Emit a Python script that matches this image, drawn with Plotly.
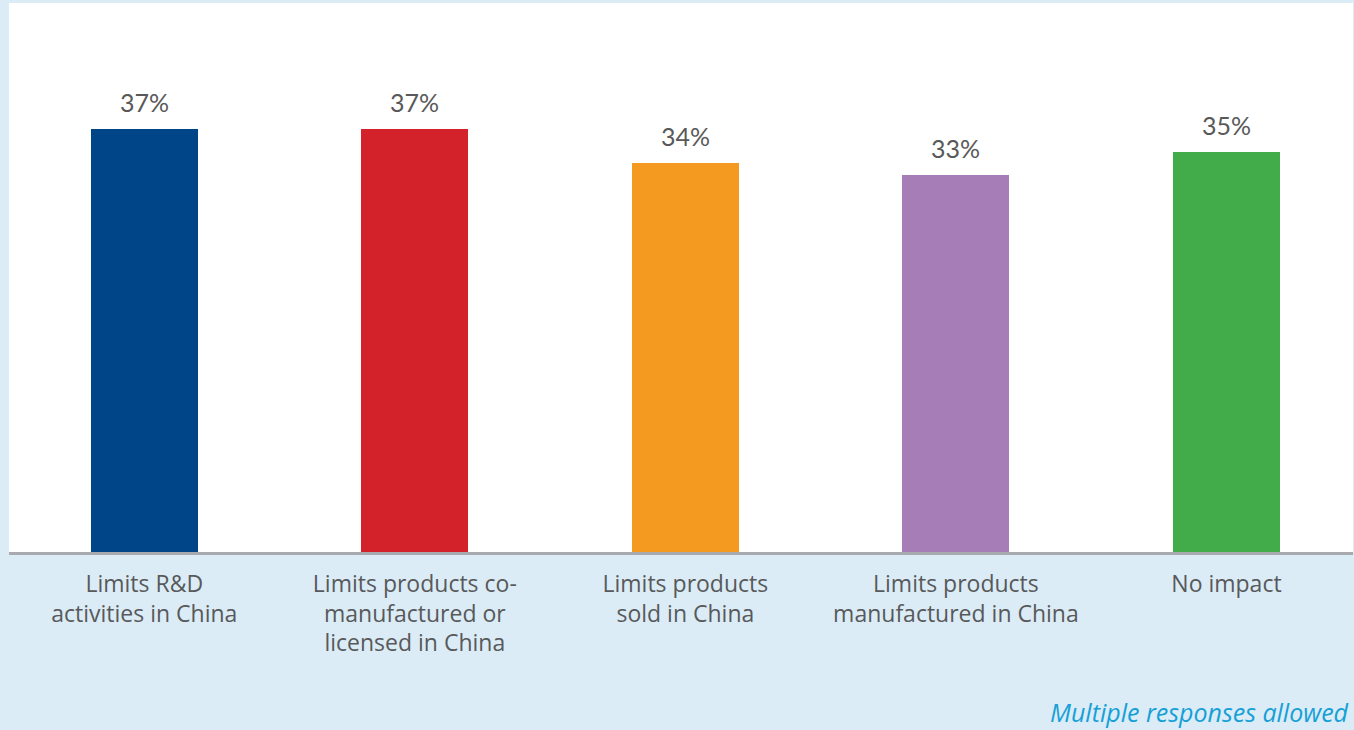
import plotly.graph_objects as go

# Survey responses: impact of restrictions on operations in China
categories = [
    "Limits R&D<br>activities in China",
    "Limits products co-<br>manufactured or<br>licensed in China",
    "Limits products<br>sold in China",
    "Limits products<br>manufactured in China",
    "No impact",
]
values = [37, 37, 34, 33, 35]
value_labels = ["37%", "37%", "34%", "33%", "35%"]
colors = ["#004587", "#d3222a", "#f49a20", "#a77db8", "#42ac4a"]
footnote = "Multiple responses allowed"

fig = go.Figure()
fig.add_trace(go.Bar(
    x=list(range(len(categories))),
    y=values,
    marker=dict(color=colors, line=dict(width=0)),
    width=0.395,
    hoverinfo="skip",
))

# Percentage labels above each bar
for i, (v, lab) in enumerate(zip(values, value_labels)):
    fig.add_annotation(
        x=i, y=v, xref="x", yref="y",
        text=lab, showarrow=False,
        yanchor="middle", yshift=27,
        font=dict(family="Lato", size=25, color="#595959"),
    )

fig.add_annotation(
    x=1, y=-0.2914, xref="paper", yref="paper",
    text=f"<i>{footnote}</i>", showarrow=False,
    xanchor="right", yanchor="middle", xshift=-2,
    font=dict(family="Open Sans", size=25, color="#16a0d6"),
)

fig.update_layout(
    width=1354, height=730,
    margin=dict(l=9, r=1, t=3, b=178),
    paper_bgcolor="#dbecf6",
    plot_bgcolor="#ffffff",
    showlegend=False,
    bargap=0,
    xaxis=dict(
        tickmode="array",
        tickvals=list(range(len(categories))),
        ticktext=categories,
        range=[-0.5, 4.4677],
        showgrid=False, zeroline=False,
        showline=True, linecolor="#a8aaad", linewidth=3,
        ticks="", ticklabelstandoff=9,
        tickfont=dict(family="Open Sans", size=23, color="#58595b"),
        fixedrange=True,
    ),
    yaxis=dict(
        range=[0, 48],
        showgrid=False, zeroline=False, showline=False,
        showticklabels=False, ticks="",
        fixedrange=True,
    ),
)

fig.write_html("out.html")
